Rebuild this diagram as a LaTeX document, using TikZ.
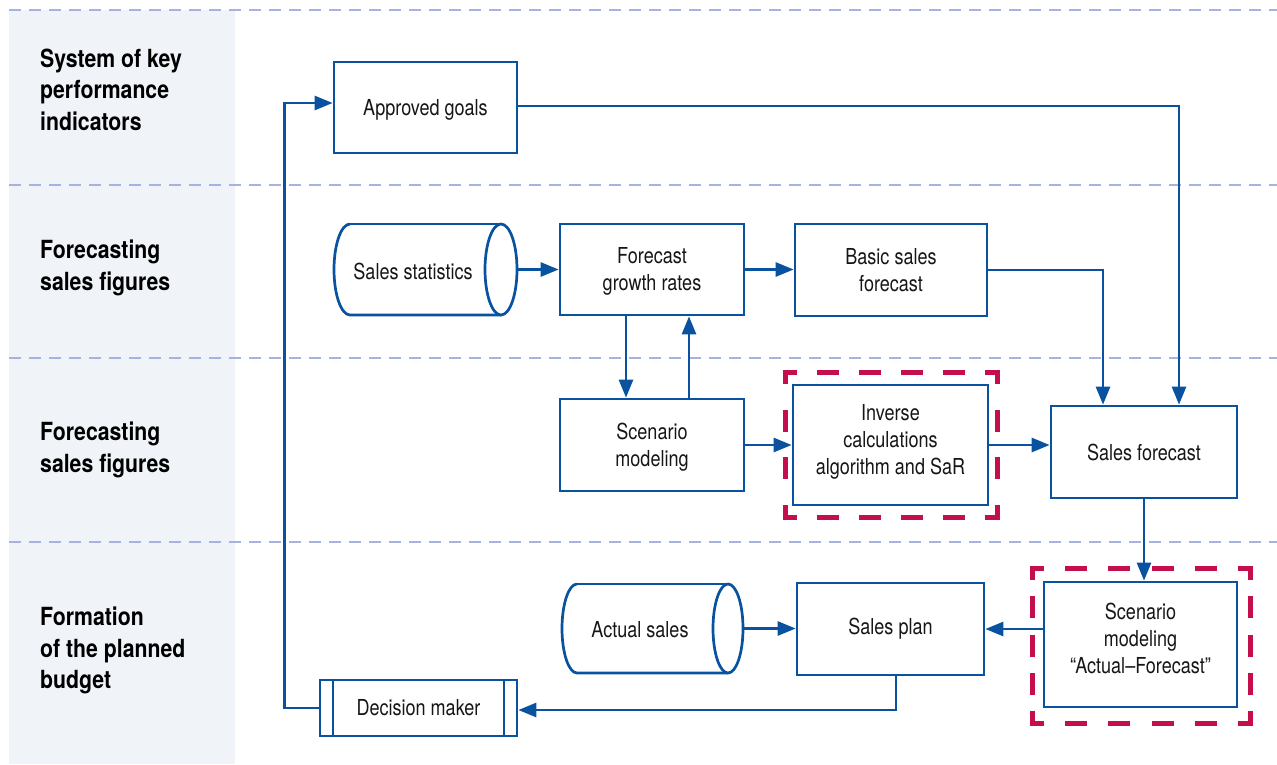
\documentclass[tikz,border=0pt]{standalone}
\usepackage{fontspec}
\setmainfont{TeX Gyre Heros}[FakeStretch=0.82]
\newfontfamily\lblfont{TeX Gyre Heros}[FakeStretch=0.85]
\usetikzlibrary{arrows.meta}
\definecolor{cblue}{RGB}{8,82,160}
\definecolor{redc}{RGB}{196,14,78}
\definecolor{gridc}{RGB}{166,178,225}
\definecolor{panelc}{RGB}{240,244,248}
\definecolor{txtc}{RGB}{22,22,22}
\newcommand\myBodyFont{\fontsize{22}{27}\selectfont}
\begin{document}
\begin{tikzpicture}[x=1pt,y=1pt,
  box/.style={draw=cblue,line width=2.7pt,fill=white,inner sep=0pt,align=center,text=txtc,font=\myBodyFont},
  plain/.style={inner sep=0pt,align=center,text=txtc,font=\myBodyFont},
  frame/.style={inner sep=0pt,outer sep=0pt},
  lbl/.style={inner sep=0pt,align=left,anchor=west,text=black,font=\lblfont\bfseries\fontsize{25}{31.5}\selectfont},
  shapeline/.style={draw=cblue,line width=2.7pt},
  arr/.style={draw=cblue,line width=2.7pt,-{Triangle[length=18pt,width=14pt]}},
  gridline/.style={draw=gridc,line width=2.6pt,dash pattern=on 12pt off 8pt},
  reddash/.style={draw=redc,line width=5pt,line cap=rect},
]
\useasboundingbox (0,0) rectangle (1277,-764);
% left panel and lane separators
\fill[panelc] (9,-10) rectangle (235,-764);
\foreach \yy in {10,185,358,542} \draw[gridline] (9,-\yy) -- (1277,-\yy);

% lane labels
\node[lbl] (l1) at (40,-89.5) {System of key\\performance\\indicators};
\node[lbl] (l2) at (40,-268) {Forecasting\\sales figures};
\node[lbl] (l3) at (40,-450) {Forecasting\\sales figures};
\node[lbl] (l4) at (40,-650.5) {Formation\\of the planned\\budget};

% boxes
\node[box,minimum width=183pt,minimum height=91pt] (ag) at (425.5,-107.5) {};
\node[plain] (agT) at (425.5,-110) {Approved goals};
\node[box,minimum width=184pt,minimum height=91pt] (fgr) at (652,-269.5) {};
\node[plain] (fgrT) at (652,-271.5) {Forecast\\growth rates};
\node[box,minimum width=192pt,minimum height=92pt] (bsf) at (891,-270) {Basic sales\\forecast};
\node[box,minimum width=184pt,minimum height=92pt] (sm) at (652,-445) {};
\node[plain] (smT) at (652,-447) {Scenario\\modeling};
\node[box,minimum width=195pt,minimum height=120pt] (inv) at (890.5,-445) {};
\node[plain] (invT) at (890.5,-442) {Inverse\\calculations\\algorithm and SaR};
\node[box,minimum width=186pt,minimum height=92pt] (sf) at (1144,-452) {Sales forecast};
\node[box,minimum width=193pt,minimum height=125pt] (scaf) at (1140.5,-644.5) {};
\node[plain] (scafT) at (1140.5,-638) {Scenario\\modeling\\“Actual–Forecast”};
\node[box,minimum width=187pt,minimum height=92pt] (sp) at (890.5,-629) {Sales plan};
\node[box,minimum width=197pt,minimum height=56pt] (dm) at (418.5,-708) {Decision maker};
\draw[shapeline,line width=2.2pt] ([xshift=14pt]dm.north west) -- ([xshift=14pt]dm.south west);
\draw[shapeline,line width=2.2pt] ([xshift=-14pt]dm.north east) -- ([xshift=-14pt]dm.south east);

% cylinder: Sales statistics
\draw[shapeline] (350,-224) arc[start angle=90,end angle=270,x radius=16pt,y radius=45.5pt] -- (501,-315);
\draw[shapeline] (350,-224) -- (501,-224);
\draw[shapeline,fill=white] (501,-269.5) ellipse[x radius=16pt,y radius=45.5pt];
\node[plain] (ss) at (413,-271) {Sales statistics};
\coordinate (ssR) at (517,-269.5);

% cylinder: Actual sales
\draw[shapeline] (577,-584) arc[start angle=90,end angle=270,x radius=15pt,y radius=44.5pt] -- (728,-673);
\draw[shapeline] (577,-584) -- (728,-584);
\draw[shapeline,fill=white] (728,-628.5) ellipse[x radius=15pt,y radius=44.5pt];
\node[plain] (as) at (640,-629.5) {Actual sales};
\coordinate (asR) at (743,-628.5);

% red dashed frames
\node[frame,minimum width=212pt,minimum height=145pt] (invf) at (891,-444.5) {};
\draw[reddash,dash pattern=on 17pt off 25pt,dash phase=7.5pt] (invf.north west) -- (invf.north east);
\draw[reddash,dash pattern=on 17pt off 25pt,dash phase=7.5pt] (invf.south west) -- (invf.south east);
\draw[reddash,dash pattern=on 17pt off 30.67pt,dash phase=7.5pt] (invf.north west) -- (invf.south west);
\draw[reddash,dash pattern=on 17pt off 30.67pt,dash phase=7.5pt] (invf.north east) -- (invf.south east);
\node[frame,minimum width=218pt,minimum height=155pt] (scaff) at (1141,-645.5) {};
\draw[reddash,dash pattern=on 17pt off 26.2pt,dash phase=7.5pt] (scaff.north west) -- (scaff.north east);
\draw[reddash,dash pattern=on 17pt off 26.2pt,dash phase=7.5pt] (scaff.south west) -- (scaff.south east);
\draw[reddash,dash pattern=on 17pt off 21.25pt,dash phase=7.5pt] (scaff.north west) -- (scaff.south west);
\draw[reddash,dash pattern=on 17pt off 21.25pt,dash phase=7.5pt] (scaff.north east) -- (scaff.south east);

% connectors
\draw[arr] (dm.west) -- ++(-34pt,0) |- ([yshift=4.5pt]ag.west);
\draw[arr] ([yshift=1.5pt]ag.east) -| ([xshift=35pt]sf.north);
\draw[arr] (bsf.east) -| ([xshift=-41pt]sf.north);
\draw[arr] (ssR) -- (fgr.west);
\draw[arr] (fgr.east) -- (fgr.east -| bsf.west);
\draw[arr] ([xshift=-26pt]fgr.south) -- ([xshift=-26pt]sm.north);
\draw[arr] ([xshift=37pt]sm.north) -- ([xshift=37pt]fgr.south);
\draw[arr] (sm.east) -- (inv.west);
\draw[arr] (inv.east) -- (inv.east -| sf.west);
\draw[arr] (sf.south) -- (sf.south |- scaf.north);
\draw[arr] (scaf.west |- sp.east) -- (sp.east);
\draw[arr] (asR) -- (asR -| sp.west);
\draw[arr] ([xshift=5.5pt]sp.south) |- ([yshift=-2pt]dm.east);
\end{tikzpicture}
\end{document}
